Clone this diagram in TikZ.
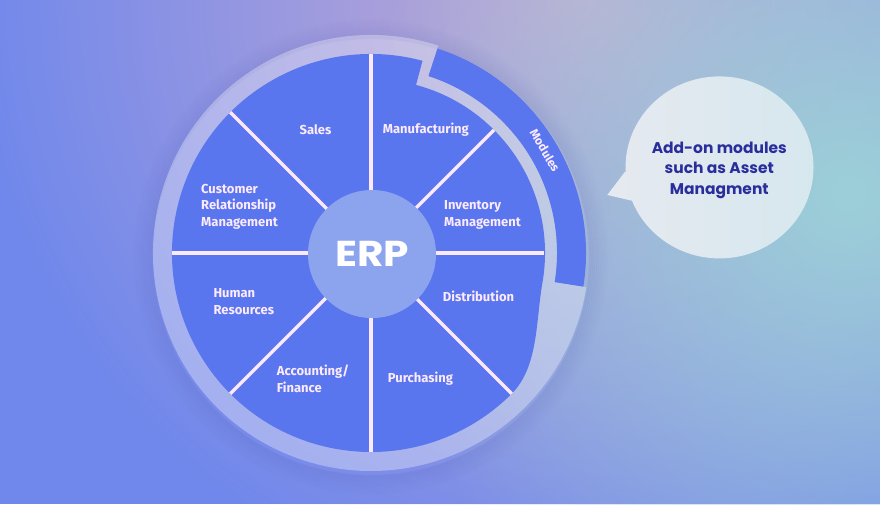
\documentclass[tikz,border=0pt]{standalone}
\usepackage{fontspec}
\setmainfont{Fira Sans}
\newfontfamily\popfont{Poppins}
\usetikzlibrary{fadings}
\definecolor{bgbase}{HTML}{7088EC}
\definecolor{pinkglow}{HTML}{C4AAD4}
\definecolor{tealglow}{HTML}{9CD0D8}
\definecolor{pieblue}{HTML}{5A76EE}
\definecolor{centercol}{HTML}{8CA3EE}
\definecolor{divcol}{HTML}{FCE8FF}
\definecolor{labtext}{HTML}{FCEAFF}
\definecolor{shadowcol}{HTML}{2C3A9A}
\definecolor{bubA}{HTML}{E6E9F0}
\definecolor{bubB}{HTML}{D6E8EE}
\definecolor{bubtext}{HTML}{2A2E9C}
\tikzfading[name=glowfade, inner color=transparent!0, outer color=transparent!100]
\tikzset{
  lab/.style={font=\fontsize{13}{16.7}\selectfont\bfseries, text=labtext, inner sep=0pt, align=left},
  divider/.style={draw=divcol, line width=3.3pt},
  slice/.style={fill=pieblue},
}
\begin{document}
\begin{tikzpicture}[x=1pt,y=1pt]
\useasboundingbox (0,0) rectangle (880,504);
\clip (0,0) rectangle (880,504);
% background
\fill[bgbase] (0,0) rectangle (880,504);
\fill[pinkglow, path fading=glowfade] (590,504) circle (620);
\fill[tealglow, path fading=glowfade] (850,310) circle (500);

\begin{scope}[shift={(371,251)}]
  % soft shadow
  \foreach \i in {1,...,10} {
    \pgfmathsetmacro\op{0.09*(1-\i/11)}
    \draw[shadowcol, opacity=\op, line width=2.2pt] (0,-4) circle ({217+2*\i});
  }
  % lavender ring (outer ring and gap ring)
  \fill[white, fill opacity=0.32] (0,0) circle (186)
    (0,0) -- (72:218) arc[start angle=72, end angle=351, radius=218] -- cycle;
  % modules band
  \fill[slice] (72:186) arc[start angle=72, end angle=-9, radius=186]
    -- (-9:215) arc[start angle=-9, end angle=72, radius=215] -- cycle;
  % pie
  \fill[slice] (75:199) arc[start angle=75, end angle=315, radius=199]
    .. controls (167.6,-113.8) and (164.8,-67.6) .. (-10:174)
    arc[start angle=-10, end angle=75, radius=174] -- cycle;
  % dividers
  \foreach \a/\r in {0/173,45/174,90/199,135/199,180/199,225/199,270/199,315/199}
    \draw[divider] (0,0) -- (\a:\r);
  % centre
  \node[circle, fill=centercol, minimum size=128pt, inner sep=0pt,
        text=white, font=\popfont\fontsize{36}{36}\selectfont\bfseries] (erp) at (1,-1) {\scalebox{1.13}[1]{ERP}};
  \node[rotate=-59.5, text=labtext, inner sep=0pt,
        font=\fontsize{12}{12}\selectfont\bfseries] (modules) at (30.5:202) {Modules};
\end{scope}

% labels (base = baseline of the last line)
\node[lab, anchor=base] (sales) at (315.5,369.7) {Sales};
\node[lab, anchor=base west] (manu) at (382.7,370.7) {Manufacturing};
\node[lab, anchor=base west] (crm) at (201,277.3) {Customer\\Relationship\\Management};
\node[lab, anchor=base west] (inv) at (444,277.3) {Inventory\\Management};
\node[lab, anchor=base west] (dist) at (442.7,202.3) {Distribution};
\node[lab, anchor=base west] (hr) at (213.3,190) {Human\\Resources};
\node[lab, anchor=base west] (acc) at (276.7,111.7) {Accounting/\\Finance};
\node[lab, anchor=base west] (pur) at (387.7,121.3) {Purchasing};

% speech bubble
\shade[left color=bubA, right color=bubB]
  (719.5,336.6) ellipse [x radius=94, y radius=91]
  (607.3,309) -- (631.7,303.3) -- (625,332.3) -- cycle;
\node[inner sep=0pt, align=center, anchor=base, text=bubtext,
      font=\popfont\fontsize{15.5}{20.5}\selectfont\bfseries] (addon) at (719.3,309.7)
  {Add-on modules\\such as Asset\\Managment};
\end{tikzpicture}
\end{document}
